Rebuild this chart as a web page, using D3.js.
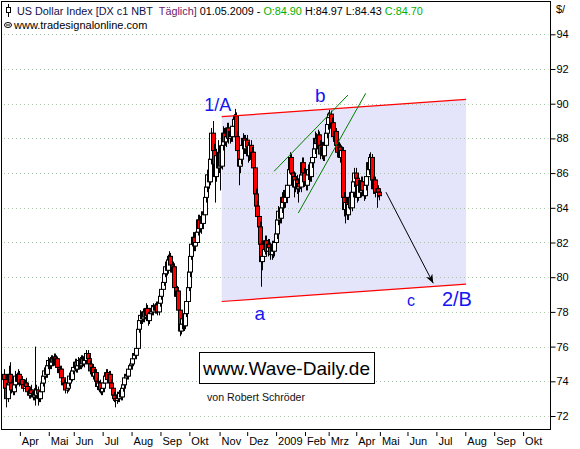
<!DOCTYPE html>
<html>
<head>
<meta charset="utf-8">
<title>US Dollar Index</title>
<style>
  body { margin: 0; background: #ffffff; }
  svg { display: block; font-family: "Liberation Sans", Arial, sans-serif; }
  .grid line { stroke: #a9c4a9; stroke-dasharray: 1,3; }
  .axis text { font-size: 11px; fill: #000; }
  .axis line { stroke: #000; }
</style>
<script src="https://cdn.jsdelivr.net/npm/d3@7"></script>
</head>
<body>
<svg id="chart" width="580" height="449"></svg>
<script>
// daily bars, 14.03.2008 - 01.05.2009 (one entry per trading day)
var opens = [
  74.4,74.1,73.6,73.0,73.8,74.4,73.9,73.5,73.4,73.8,74.3,74.0,
  74.4,73.9,74.1,73.8,73.6,73.9,73.7,73.4,73.2,73.5,73.3,73.1,73.4,73.2,73.5,73.3,73.0,73.4,73.9,74.3,74.6,74.4,
  74.9,75.2,74.9,75.3,75.1,75.4,75.0,75.3,74.8,74.5,74.7,74.2,73.8,73.9,73.5,73.6,73.9,74.3,74.1,
  74.6,74.8,75.1,74.7,74.9,75.2,74.9,75.3,75.0,75.4,75.2,75.6,75.3,75.0,74.6,74.8,74.3,74.5,74.0,73.7,73.9,73.5,
  73.4,73.6,73.9,74.3,74.5,74.1,74.4,73.9,73.6,73.2,73.0,72.9,73.2,73.0,73.3,73.1,73.6,73.8,74.2,74.4,74.3,74.7,
  74.9,75.0,75.3,75.6,75.5,75.9,77.0,77.5,77.8,77.6,78.0,77.7,78.2,77.8,77.5,77.9,78.2,78.0,78.3,78.1,78.4,78.0,
  78.5,78.9,79.3,79.7,80.2,80.6,80.4,81.0,81.2,80.7,80.3,80.6,79.4,78.9,79.2,78.1,76.9,77.3,77.6,77.2,77.9,78.6,
  79.4,80.3,81.2,81.9,82.3,81.8,82.0,82.6,83.3,82.8,83.5,83.1,83.6,84.6,85.2,85.9,85.5,86.8,88.3,87.3,86.5,85.8,87.0,
  86.3,87.2,86.4,87.6,88.3,87.8,88.1,88.6,88.0,88.4,88.1,88.7,89.1,89.3,88.1,87.3,86.4,86.8,87.6,88.0,87.4,
  87.9,87.5,87.0,87.6,86.8,87.2,86.3,84.8,84.1,83.5,82.9,81.9,80.9,81.2,81.6,82.1,81.5,81.9,81.7,81.3,81.8,81.5,
  82.0,82.5,83.3,83.8,83.4,84.0,84.6,84.3,85.0,84.6,85.3,86.2,86.9,86.0,85.8,85.2,85.6,85.1,85.4,85.2,85.9,86.6,
  86.0,85.5,85.3,85.9,86.2,85.8,86.6,86.9,87.4,88.0,87.7,88.2,87.6,87.1,87.5,87.0,87.6,88.3,
  88.8,89.2,89.4,88.6,88.9,88.1,88.4,87.6,87.2,87.5,86.9,87.3,84.6,83.9,84.3,83.6,84.2,84.6,84.0,84.9,85.5,
  86.0,85.7,84.6,85.3,84.9,85.5,85.0,84.7,85.3,85.8,86.6,86.2,86.9,85.6,85.1,85.6,84.9,85.1,
  84.90
];
var highs = [
  74.7,74.4,73.9,74.1,74.9,75.1,74.1,73.8,74.0,74.6,74.5,74.7,
  74.6,74.4,74.3,74.0,74.1,74.2,73.9,73.6,73.7,73.8,73.5,73.6,76.0,73.8,73.7,73.5,73.6,74.1,74.5,74.8,74.9,75.1,
  75.4,75.4,75.5,75.5,75.6,75.6,75.5,75.4,75.0,74.9,74.9,74.4,74.1,74.0,73.8,74.1,74.5,74.5,74.8,
  75.0,75.3,75.3,75.1,75.4,75.4,75.5,75.5,75.6,75.6,75.8,75.8,75.5,75.2,75.0,75.0,74.7,74.7,74.2,74.1,74.1,73.7,
  73.8,74.1,74.5,74.7,74.7,74.6,74.6,74.1,73.8,73.4,73.2,73.4,73.4,73.5,73.5,73.8,74.0,74.4,74.6,74.6,74.9,75.1,
  75.2,75.5,75.8,75.8,76.1,77.2,77.7,78.1,78.0,78.2,78.2,78.5,78.4,78.0,78.1,78.4,78.4,78.5,78.5,78.6,78.6,78.7,
  79.2,79.5,80.0,80.5,80.9,80.9,81.3,81.5,81.4,80.9,80.9,80.8,79.7,79.5,79.4,78.3,77.6,77.9,77.9,78.1,78.9,79.7,
  80.6,81.5,82.3,82.6,82.6,82.4,82.9,83.6,83.6,83.8,83.8,83.9,84.9,85.5,86.2,86.3,87.1,88.6,89.0,87.7,86.9,87.4,87.9,
  87.6,87.5,88.0,88.7,88.6,88.5,88.9,88.9,88.7,88.7,89.0,89.4,89.7,89.5,88.4,87.6,87.2,87.9,88.3,88.2,88.2,
  88.2,87.8,87.9,87.9,87.5,87.5,86.5,85.1,84.4,83.8,83.2,82.1,81.6,82.0,82.4,82.4,82.2,82.2,82.0,82.1,82.1,82.3,
  82.8,83.6,84.1,84.1,84.3,84.9,84.9,85.3,85.3,85.6,86.5,87.2,87.1,86.5,86.1,85.9,85.9,85.7,85.7,86.2,86.9,86.9,
  86.3,85.8,86.2,86.5,86.5,86.9,87.2,87.7,88.4,88.3,88.5,88.4,87.9,87.8,87.8,87.9,88.6,89.1,
  89.5,89.64,89.6,89.2,89.1,88.7,88.6,87.9,87.8,87.7,87.6,87.5,84.9,84.6,84.5,84.5,84.9,84.9,85.2,85.8,86.3,
  86.3,85.9,85.6,85.6,85.8,85.8,85.2,85.6,86.1,86.9,87.1,87.2,87.1,85.8,85.9,85.8,85.3,85.3,
  84.97
];
var lows = [
  73.8,73.2,72.5,72.8,73.6,73.7,73.3,73.2,73.2,73.6,73.8,73.8,
  73.7,73.7,73.6,73.4,73.4,73.5,73.2,73.0,73.0,73.1,72.9,72.9,72.6,73.0,72.6,72.8,72.8,73.2,73.7,74.1,74.2,74.2,
  74.7,74.7,74.7,74.9,74.9,74.8,74.8,74.6,74.3,74.3,74.0,73.6,73.5,73.3,73.3,73.4,73.7,73.9,74.0,
  74.4,74.6,74.5,74.5,74.7,74.7,74.7,74.8,74.8,75.0,75.0,75.1,74.8,74.4,74.4,74.1,74.1,73.8,73.5,73.5,73.3,73.2,
  73.2,73.4,73.7,74.1,73.9,73.9,73.7,73.4,73.0,72.8,72.5,72.7,72.8,72.8,72.9,72.9,73.4,73.6,74.0,74.1,74.1,74.5,
  74.7,74.8,75.1,75.3,75.3,75.8,76.8,77.3,77.3,77.4,77.4,77.5,77.6,77.2,77.3,77.7,77.8,77.8,77.9,77.9,77.8,77.8,
  78.3,78.7,79.1,79.5,80.0,80.1,80.2,80.7,80.5,80.0,80.0,79.1,78.6,78.6,77.8,76.6,76.7,77.0,76.9,77.0,77.7,78.4,
  79.2,80.0,81.0,81.6,81.5,81.5,81.8,82.4,82.5,82.5,82.8,82.8,83.4,84.3,84.9,85.1,85.3,86.5,87.0,86.0,84.3,85.5,86.0,
  86.0,85.0,86.2,87.3,87.5,87.5,87.8,87.7,87.7,87.8,87.8,88.4,88.8,87.8,87.0,85.3,86.0,86.5,87.3,87.1,87.1,
  87.2,86.6,86.7,86.5,86.4,86.0,84.5,83.7,83.1,82.5,81.5,79.45,80.4,80.9,81.3,81.2,81.2,81.3,81.0,81.0,81.1,81.2,
  81.7,82.2,83.0,83.1,83.1,83.7,84.0,84.0,84.3,84.3,85.0,85.9,85.7,85.4,84.6,84.9,84.8,84.3,84.9,84.9,85.6,85.7,
  85.2,85.0,85.0,85.6,85.5,85.5,86.3,86.6,87.1,87.4,87.4,87.3,86.8,86.8,86.7,86.7,87.3,88.0,
  88.5,88.9,88.3,88.3,87.8,87.8,87.3,86.9,86.9,86.6,86.6,84.3,83.5,83.1,83.3,83.3,83.9,83.7,83.8,84.6,85.2,
  85.4,84.3,84.4,84.6,84.6,84.7,84.4,84.5,85.0,85.5,85.9,85.9,85.3,84.8,84.8,84.6,84.0,84.6,
  84.43
];
var closes = [
  74.1,73.6,73.0,73.8,74.4,73.9,73.5,73.4,73.8,74.3,74.0,74.4,
  73.9,74.1,73.8,73.6,73.9,73.7,73.4,73.2,73.5,73.3,73.1,73.4,73.2,73.5,73.3,73.0,73.4,73.9,74.3,74.6,74.4,74.9,
  75.2,74.9,75.3,75.1,75.4,75.0,75.3,74.8,74.5,74.7,74.2,73.8,73.9,73.5,73.6,73.9,74.3,74.1,74.6,
  74.8,75.1,74.7,74.9,75.2,74.9,75.3,75.0,75.4,75.2,75.6,75.3,75.0,74.6,74.8,74.3,74.5,74.0,73.7,73.9,73.5,73.4,
  73.6,73.9,74.3,74.5,74.1,74.4,73.9,73.6,73.2,73.0,72.9,73.2,73.0,73.3,73.1,73.6,73.8,74.2,74.4,74.3,74.7,74.9,
  75.0,75.3,75.6,75.5,75.9,77.0,77.5,77.8,77.6,78.0,77.7,78.2,77.8,77.5,77.9,78.2,78.0,78.3,78.1,78.4,78.0,78.5,
  78.9,79.3,79.7,80.2,80.6,80.4,81.0,81.2,80.7,80.3,80.6,79.4,78.9,79.2,78.1,76.9,77.3,77.6,77.2,77.9,78.6,79.4,
  80.3,81.2,81.9,82.3,81.8,82.0,82.6,83.3,82.8,83.5,83.1,83.6,84.6,85.2,85.9,85.5,86.8,88.3,87.3,86.5,85.8,87.0,86.3,
  87.2,86.4,87.6,88.3,87.8,88.1,88.6,88.0,88.4,88.1,88.7,89.1,89.3,88.1,87.3,86.4,86.8,87.6,88.0,87.4,87.9,
  87.5,87.0,87.6,86.8,87.2,86.3,84.8,84.1,83.5,82.9,81.9,80.9,81.2,81.6,82.1,81.5,81.9,81.7,81.3,81.8,81.5,82.0,
  82.5,83.3,83.8,83.4,84.0,84.6,84.3,85.0,84.6,85.3,86.2,86.9,86.0,85.8,85.2,85.6,85.1,85.4,85.2,85.9,86.6,86.0,
  85.5,85.3,85.9,86.2,85.8,86.6,86.9,87.4,88.0,87.7,88.2,87.6,87.1,87.5,87.0,87.6,88.3,88.8,
  89.2,89.4,88.6,88.9,88.1,88.4,87.6,87.2,87.5,86.9,87.3,84.6,83.9,84.3,83.6,84.2,84.6,84.0,84.9,85.5,86.0,
  85.7,84.6,85.3,84.9,85.5,85.0,84.7,85.3,85.8,86.6,86.2,86.9,85.6,85.1,85.6,84.9,85.1,84.9,
  84.70
];

// x axis: month labels and the bar index where each month starts
var monthLabels = ["Apr","Mai","Jun","Jul","Aug","Sep","Okt","Nov","Dez","2009","Feb","Mrz","Apr","Mai","Jun","Jul","Aug","Sep","Okt"];
var monthStart = [12,34,53,75,97,119,141,164,185,207,229,247,268,286,307,329,351,373,395];
var priceTicks = [72,74,76,78,80,82,84,86,88,90,92,94];

// drawing (bar index, price)
var channelTop = [[166, 89.25], [352, 90.25]];
var channelBottom = [[166, 78.6], [352, 79.6]];
var greenLines = [
  [[205.8, 86.1], [262.1, 90.5]],
  [[224.3, 83.7], [275.6, 90.6]]
];
var arrowPath = [[291, 84.9], [327, 79.65]];
var waveLabels = [
  {text: "1/A", i: 163, v: 89.6, size: 18},
  {text: "b", i: 241, v: 90.1, size: 19},
  {text: "a", i: 195, v: 77.55, size: 19},
  {text: "c", i: 310, v: 78.35, size: 16},
  {text: "2/B", i: 345, v: 78.35, size: 20}
];

var svg = d3.select("#chart");
var plot = {left: 1.5, top: 1.5, right: 550.5, bottom: 429.5};

var x = d3.scaleLinear().domain([0, 416]).range([3.6, 550.2]);
var y = d3.scaleLinear().domain([72, 94]).range([416, 34.3]);

var defs = svg.append("defs");
defs.append("clipPath").attr("id", "clip")
  .append("rect")
  .attr("x", plot.left).attr("y", plot.top)
  .attr("width", plot.right - plot.left).attr("height", plot.bottom - plot.top);

defs.append("marker")
  .attr("id", "arrow")
  .attr("viewBox", "0 -5 10 10")
  .attr("refX", 10)
  .attr("refY", 0)
  .attr("markerWidth", 9)
  .attr("markerHeight", 9)
  .attr("markerUnits", "userSpaceOnUse")
  .attr("orient", "auto")
  .append("path")
  .attr("d", "M0,-4L10,0L0,4L3,0Z")
  .attr("fill", "#000");

// channel fill
var chan = channelTop.concat(channelBottom.slice().reverse());
svg.append("path")
  .attr("d", "M" + chan.map(function(p) { return x(p[0]) + "," + y(p[1]); }).join("L") + "Z")
  .attr("fill", "#e4e4fa");

// grid
svg.append("g").attr("class", "grid")
  .selectAll("line").data(priceTicks).enter().append("line")
  .attr("x1", 4).attr("x2", plot.right - 2)
  .attr("y1", function(d) { return Math.round(y(d)) + 0.5; })
  .attr("y2", function(d) { return Math.round(y(d)) + 0.5; });

// candles
var bars = closes.map(function(c, i) {
  return {i: i, o: opens[i], h: highs[i], l: lows[i], c: c};
});
var cg = svg.append("g").attr("clip-path", "url(#clip)");
var candle = cg.selectAll("g.c").data(bars).enter().append("g").attr("class", "c");
candle.append("line")
  .attr("x1", function(d) { return Math.round(x(d.i)) + 0.5; })
  .attr("x2", function(d) { return Math.round(x(d.i)) + 0.5; })
  .attr("y1", function(d) { return y(d.h); })
  .attr("y2", function(d) { return y(d.l); })
  .attr("stroke", "#000");
candle.append("rect")
  .attr("x", function(d) { return Math.round(x(d.i)) - 1.5; })
  .attr("width", 4)
  .attr("y", function(d) { return y(Math.max(d.o, d.c)); })
  .attr("height", function(d) { return Math.max(1, Math.abs(y(d.o) - y(d.c))); })
  .attr("fill", function(d) { return d.c < d.o ? "#ff0000" : "#ffffff"; })
  .attr("stroke", "#000")
  .attr("stroke-width", 1);

// channel lines
[channelTop, channelBottom].forEach(function(l) {
  svg.append("line")
    .attr("x1", x(l[0][0])).attr("y1", y(l[0][1]))
    .attr("x2", x(l[1][0])).attr("y2", y(l[1][1]))
    .attr("stroke", "#ff0000").attr("stroke-width", 1.2);
});
greenLines.forEach(function(l) {
  svg.append("line")
    .attr("x1", x(l[0][0])).attr("y1", y(l[0][1]))
    .attr("x2", x(l[1][0])).attr("y2", y(l[1][1]))
    .attr("stroke", "#008000").attr("stroke-width", 1);
});
svg.append("line")
  .attr("x1", x(arrowPath[0][0])).attr("y1", y(arrowPath[0][1]))
  .attr("x2", x(arrowPath[1][0])).attr("y2", y(arrowPath[1][1]))
  .attr("stroke", "#000").attr("stroke-width", 1)
  .attr("marker-end", "url(#arrow)");

svg.selectAll("text.wave").data(waveLabels).enter().append("text")
  .attr("class", "wave")
  .attr("x", function(d) { return x(d.i); })
  .attr("y", function(d) { return y(d.v); })
  .attr("text-anchor", "middle")
  .style("font-size", function(d) { return d.size + "px"; })
  .style("fill", "#1414f0")
  .text(function(d) { return d.text; });

// frame
svg.append("rect")
  .attr("x", plot.left).attr("y", plot.top)
  .attr("width", plot.right - plot.left).attr("height", plot.bottom - plot.top)
  .attr("fill", "none").attr("stroke", "#000");

// y axis on the right
var yAxis = svg.append("g").attr("class", "axis")
  .attr("transform", "translate(" + plot.right + ",0)")
  .call(d3.axisRight(y).tickValues(priceTicks).tickSize(5).tickPadding(1).tickFormat(d3.format("d")));
yAxis.select(".domain").remove();
svg.append("text").attr("x", 556).attr("y", 13).style("font-size", "11px").text("$/");

// x axis with month labels
var xAxis = svg.append("g").attr("class", "axis")
  .attr("transform", "translate(0,432)")
  .call(d3.axisBottom(x).tickValues(monthStart).tickSize(4)
    .tickFormat(function(d, k) { return monthLabels[k]; }));
xAxis.select(".domain").remove();
xAxis.selectAll(".tick line").attr("transform", "translate(0.5,0)");
xAxis.selectAll(".tick text").attr("text-anchor", "start").attr("dx", 2).attr("dy", 0).attr("y", 13);

// header, squeezed horizontally to the reference width
var head = svg.append("g");
var title = head.append("text").attr("x", 0).attr("y", 0).style("font-size", "11.5px").style("fill", "#10104a");
title.append("tspan").text("US Dollar Index [DX c1 NBT\u00a0\u00a0");
title.append("tspan").style("fill", "#6a1a6a").text("Täglich]");
title.append("tspan").style("fill", "#000").text(" 01.05.2009 - ");
title.append("tspan").style("fill", "#00b000").text("O:84.90");
title.append("tspan").style("fill", "#000").text(" H:84.97 L:84.43 ");
title.append("tspan").style("fill", "#00b000").text("C:84.70");
var tw = title.node().getComputedTextLength();
head.attr("transform", "translate(17,15) scale(" + (406 / tw) + ",1)");

var icon = svg.append("g");
icon.append("line").attr("x1", 8.5).attr("x2", 8.5).attr("y1", 4).attr("y2", 17).attr("stroke", "#000");
icon.append("rect").attr("x", 6.5).attr("y", 7.5).attr("width", 4).attr("height", 5).attr("fill", "#fff").attr("stroke", "#000");
icon.append("ellipse").attr("cx", 8).attr("cy", 25).attr("rx", 3.5).attr("ry", 2.5).attr("fill", "none").attr("stroke", "#000");
icon.append("line").attr("x1", 6).attr("x2", 10).attr("y1", 25).attr("y2", 25).attr("stroke", "#000");
svg.append("text").attr("x", 14).attr("y", 29).style("font-size", "11px").text("www.tradesignalonline.com");

// signature box
svg.append("rect").attr("x", 199.5).attr("y", 352.5).attr("width", 175).attr("height", 31)
  .attr("fill", "#fff").attr("stroke", "#000");
svg.append("text").attr("x", 203).attr("y", 375).style("font-size", "19px")
  .attr("textLength", 167).attr("lengthAdjust", "spacingAndGlyphs").text("www.Wave-Daily.de");
svg.append("text").attr("x", 207).attr("y", 401).style("font-size", "11px")
  .attr("textLength", 98).attr("lengthAdjust", "spacingAndGlyphs").style("fill", "#111")
  .text("von Robert Schröder");
</script>
</body>
</html>
